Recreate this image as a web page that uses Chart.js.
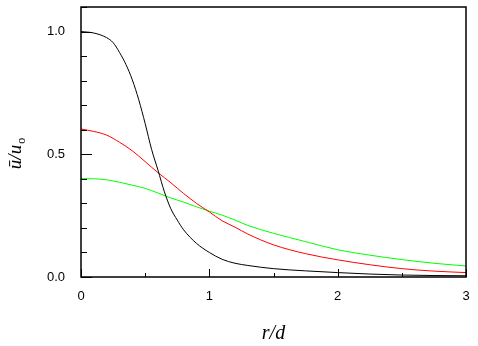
<!DOCTYPE html>
<html><head><meta charset="utf-8">
<script src="https://cdn.jsdelivr.net/npm/chart.js@4/dist/chart.umd.min.js"></script>
<style>html,body{margin:0;padding:0;background:#fff}#wrap{width:478px;height:346px}</style>
</head><body><div id="wrap"><canvas id="c" width="478" height="346"></canvas></div>
<script>
const rBlack = [0,0.1,0.2,0.25,0.3,0.35,0.4,0.45,0.5,0.55,0.6,0.65,0.7,0.75,0.8,0.9,1.0,1.1,1.2,1.3,1.5,1.75,2.0,2.25,2.5,2.75,3.0];
const uBlack = [1.0,0.994,0.975,0.955,0.915,0.866,0.803,0.722,0.625,0.52,0.435,0.347,0.278,0.232,0.192,0.137,0.1,0.072,0.056,0.047,0.034,0.025,0.018,0.012,0.008,0.006,0.005];
const rCurve = [0,0.1,0.2,0.3,0.4,0.5,0.6,0.7,0.8,0.9,1.0,1.1,1.2,1.3,1.5,1.75,2.0,2.25,2.5,2.75,3.0];
const uRed   = [0.603,0.593,0.578,0.549,0.514,0.47,0.425,0.384,0.34,0.3,0.265,0.229,0.203,0.175,0.131,0.095,0.07,0.05,0.034,0.024,0.018];
const uGreen = [0.401,0.4,0.396,0.386,0.374,0.361,0.342,0.322,0.305,0.286,0.268,0.252,0.232,0.21,0.178,0.144,0.111,0.089,0.071,0.056,0.045];
const xLabels = [0,1,2,3];
const yLabels = [0.0,0.5,1.0];

const pts = (xs, ys) => xs.map((x,i)=>({x:x,y:ys[i]}));

const frame = {
  id:'frame',
  afterDraw(chart){
    const ctx = chart.ctx, a = chart.chartArea;
    const xs = chart.scales.x, ys = chart.scales.y;
    ctx.save();
    ctx.strokeStyle = '#000';
    ctx.lineWidth = 1.5;
    ctx.strokeRect(a.left, a.top, a.right-a.left, a.bottom-a.top);
    ctx.lineWidth = 1;
    ys.ticks.forEach(t=>{
      const y = Math.round(ys.getPixelForValue(t.value))+0.5;
      const major = yLabels.some(v=>Math.abs(v-t.value)<1e-6);
      ctx.beginPath(); ctx.moveTo(a.left, y); ctx.lineTo(a.left+(major?11:6), y); ctx.stroke();
    });
    xs.ticks.forEach(t=>{
      const x = Math.round(xs.getPixelForValue(t.value))+0.5;
      const major = xLabels.some(v=>Math.abs(v-t.value)<1e-6);
      ctx.beginPath(); ctx.moveTo(x, a.bottom); ctx.lineTo(x, a.bottom-(major?8:4)); ctx.stroke();
    });
    // y axis title: ū/u_o rotated
    ctx.translate(21, 154);
    ctx.rotate(-Math.PI/2);
    ctx.fillStyle = '#000';
    ctx.textBaseline = 'alphabetic';
    ctx.textAlign = 'left';
    const main = 'ū/u';
    ctx.font = 'italic 19px "Liberation Serif"';
    const w = ctx.measureText(main).width;
    const sub = 'o';
    ctx.font = '12px "Liberation Serif"';
    const ws = ctx.measureText(sub).width;
    const x0 = -(w+ws)/2;
    ctx.font = 'italic 19px "Liberation Serif"';
    ctx.fillText(main, x0, 0);
    ctx.font = '12px "Liberation Serif"';
    ctx.fillText(sub, x0+w+1, 4);
    ctx.restore();
  }
};

new Chart(document.getElementById('c'), {
  type:'line',
  data:{
    datasets:[
      {data:pts(rBlack,uBlack), borderColor:'#000000', borderWidth:1, pointRadius:0, cubicInterpolationMode:'monotone'},
      {data:pts(rCurve,uRed), borderColor:'#ff0000', borderWidth:1, pointRadius:0, cubicInterpolationMode:'monotone'},
      {data:pts(rCurve,uGreen), borderColor:'#00ff00', borderWidth:1, pointRadius:0, cubicInterpolationMode:'monotone'}
    ]
  },
  options:{
    responsive:false, animation:false, devicePixelRatio:1,
    layout:{padding:{left:0,right:12,top:7,bottom:0}},
    plugins:{legend:{display:false}, tooltip:{enabled:false}},
    scales:{
      x:{type:'linear', min:0, max:3,
        grid:{display:false, drawTicks:false}, border:{display:false},
        ticks:{stepSize:0.5, padding:12, color:'#000', maxRotation:0, autoSkip:false,
          font:{family:'"Liberation Sans"', size:13},
          callback:(v)=> xLabels.some(l=>Math.abs(l-v)<1e-6) ? String(v) : ''},
        title:{display:true, text:'r/d', color:'#000', font:{family:'"Liberation Serif"', style:'italic', size:20}, padding:{top:6,bottom:0}},
        afterFit:(s)=>{s.height = 69; s.paddingLeft = 0; s.paddingRight = 0;}
      },
      y:{type:'linear', min:0, max:1.1,
        grid:{display:false, drawTicks:false}, border:{display:false},
        ticks:{stepSize:0.1, padding:16, color:'#000', autoSkip:false,
          font:{family:'"Liberation Sans"', size:13},
          callback:(v)=> yLabels.some(l=>Math.abs(l-v)<1e-6) ? v.toFixed(1) : ''},
        afterFit:(s)=>{s.width = 81; s.paddingTop = 0; s.paddingBottom = 0;}
      }
    }
  },
  plugins:[frame]
});
</script></body></html>
